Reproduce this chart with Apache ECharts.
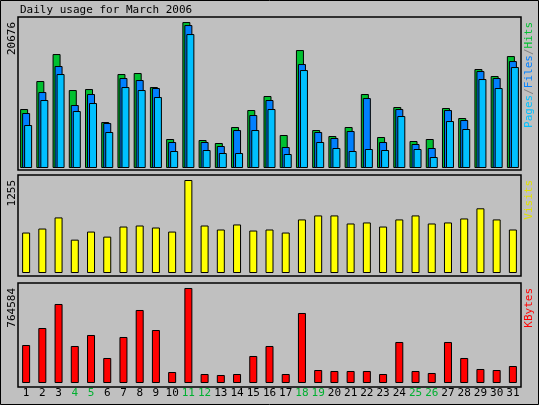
<!DOCTYPE html>
<html><head><meta charset="utf-8">
<script src="https://cdn.jsdelivr.net/npm/echarts@6/dist/echarts.min.js"></script>
<style>body{margin:0}#chart{width:539px;height:405px}</style>
</head><body><div id="chart"></div>
<script>
var days = [];
for (var d = 1; d <= 31; d++) days.push(String(d));
var weekend = ['4','5','11','12','18','19','25','26'];

var hits = [8355,12320,16143,11045,11187,6514,13311,13452,11470,4107,20676,3965,3540,5806,8213,10196,4673,16710,5381,4531,5806,10479,4390,8638,3823,4107,8496,7080,14019,13028,15860];
var files = [7789,10762,14444,8921,10479,6372,12745,12462,11329,3682,20250,3682,3115,5381,7505,9629,2974,14727,5098,4248,5239,9912,3682,8355,3399,2832,8213,6797,13736,12745,15152];
var pages = [6089,9629,13311,8072,9204,5098,11470,11045,10054,2407,18975,2549,2124,2124,5381,8355,1982,13878,3682,2832,2407,2691,2549,7364,2691,1558,6656,5523,12603,11329,14302];
var visits = [546,600,750,450,559,491,627,641,614,559,1255,641,587,655,573,587,546,723,777,777,668,682,627,723,777,668,682,736,873,723,587];
var kbytes = [305800,442600,635800,297800,386300,201200,370200,587500,426500,88500,764584,72400,64400,72400,217300,297800,72400,563400,104600,96600,96600,96600,72400,330000,96600,80500,330000,201200,112700,104600,136800];

var font = 'DejaVu Sans Mono';
var chart = echarts.init(document.getElementById('chart'));

function xAx(i, show) {
    return {
        type: 'category', gridIndex: i, data: days,
        axisLine: {show: false}, axisTick: {show: false},
        axisLabel: {
            show: show, interval: 0, margin: 5, fontFamily: font, fontSize: 11,
            color: function (v) { return weekend.indexOf(v) >= 0 ? '#00b030' : '#000'; }
        }
    };
}
function yAx(i, max) {
    return {type: 'value', gridIndex: i, min: 0, max: max, axisLine: {show: false},
        axisTick: {show: false}, axisLabel: {show: false}, splitLine: {show: false}};
}
function bar(name, data, color, i) {
    return {name: name, type: 'bar', data: data, xAxisIndex: i, yAxisIndex: i,
        barWidth: 8, barGap: '-75%',
        itemStyle: {color: color, borderColor: '#000', borderWidth: 1}};
}
function panel(y, h) {
    return {type: 'rect', z: -1, shape: {x: 18, y: y, width: 503, height: h},
        style: {fill: '#c0c0c0', stroke: '#000', lineWidth: 1.5}};
}
function vlabel(x, y, text, rich) {
    return {type: 'text', x: x, y: y, rotation: Math.PI / 2,
        style: {text: text, rich: rich, fontFamily: font, fontSize: 11, fill: '#000',
            align: 'right', verticalAlign: 'middle'}};
}

chart.setOption({
    animation: false,
    backgroundColor: '#c0c0c0',
    grid: [
        {left: 18, right: 18, top: 18, height: 150},
        {left: 18, right: 18, top: 176, height: 97},
        {left: 18, right: 18, top: 284, height: 99}
    ],
    xAxis: [xAx(0, false), xAx(1, false), xAx(2, true)],
    yAxis: [yAx(0, 21250), yAx(1, 1309), yAx(2, 796700)],
    series: [
        bar('Hits', hits, '#00c030', 0),
        bar('Files', files, '#0080ff', 0),
        bar('Pages', pages, '#00c0ff', 0),
        bar('Visits', visits, '#ffff00', 1),
        bar('KBytes', kbytes, '#ff0000', 2)
    ],
    graphic: [
        {type: 'rect', z: -2, shape: {x: 0.5, y: 0.5, width: 538, height: 404},
            style: {fill: '#c0c0c0', stroke: '#000', lineWidth: 1}},
        panel(17, 153), panel(175, 101), panel(283, 104),
        {type: 'text', x: 20, y: 5, style: {text: 'Daily usage for March 2006', fontFamily: font, fontSize: 11, fill: '#000'}},
        vlabel(12, 22, '20676'),
        vlabel(12, 180, '1255'),
        vlabel(12, 288, '764584'),
        vlabel(529, 22, '{p|Pages}{s|/}{f|Files}{s|/}{h|Hits}', {
            p: {fill: '#00c0ff', fontFamily: font, fontSize: 11},
            f: {fill: '#0080ff', fontFamily: font, fontSize: 11},
            h: {fill: '#00c030', fontFamily: font, fontSize: 11},
            s: {fill: '#808080', fontFamily: font, fontSize: 11}
        }),
        vlabel(529, 180, '{v|Visits}', {v: {fill: '#e0e000', fontFamily: font, fontSize: 11}}),
        vlabel(529, 288, '{k|KBytes}', {k: {fill: '#ff0000', fontFamily: font, fontSize: 11}})
    ]
});
</script>
</body></html>
